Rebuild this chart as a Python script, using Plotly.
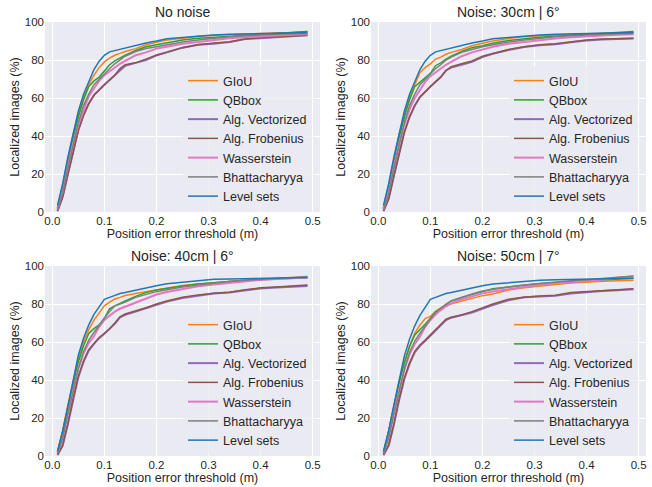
import plotly.graph_objects as go

# Shared thresholds (m)
X = [0.01, 0.02, 0.03, 0.04, 0.05, 0.06, 0.07, 0.08, 0.09, 0.10, 0.11, 0.12, 0.13, 0.14,
     0.16, 0.18, 0.20, 0.22, 0.25, 0.28, 0.31, 0.34, 0.37, 0.40, 0.43, 0.46, 0.49]

METHODS = ["GIoU", "QBbox", "Alg. Vectorized", "Alg. Frobenius", "Wasserstein", "Bhattacharyya", "Level sets"]
TITLES = ["No noise", "Noise: 30cm | 6°", "Noise: 40cm | 6°", "Noise: 50cm | 7°"]
X_TICKS = [0.0, 0.1, 0.2, 0.3, 0.4, 0.5]
X_TICKTEXT = ["0.0", "0.1", "0.2", "0.3", "0.4", "0.5"]
Y_TICKS = [0, 20, 40, 60, 80, 100]

# --- No noise ---
giou_0 = [2, 14, 28, 41, 51, 60, 67, 72, 76, 79, 81, 82.5, 83.5, 84.5, 86, 88, 89.3, 90.5, 91.5, 92.5, 93, 93.3, 93.6, 93.8, 94, 94.5, 95]
qbbox_0 = [2, 13, 26, 39, 50, 59, 66, 69, 71, 74, 77.5, 79.5, 81, 82.5, 85, 87, 88, 89, 90.5, 91.5, 92, 92.5, 93, 93.5, 94, 94.5, 95]
algvec_0 = [0.5, 8, 20, 32, 43, 51, 57, 61.5, 64.5, 67, 69.5, 72, 75, 77, 78.5, 80, 82.5, 84, 86.5, 88, 88.5, 89.5, 91, 91.5, 92, 92.3, 93]
algfro_0 = [0.5, 8, 20, 32, 43, 51, 57, 61.5, 64.5, 67, 69.5, 72, 75.5, 77.5, 78.5, 80.5, 82.5, 84, 86.5, 88, 89, 89.5, 91, 91.8, 92.3, 92.7, 93]
wass_0 = [1.5, 11, 24, 36, 46, 54, 61, 65, 69, 72, 74, 76, 78, 79.5, 82.5, 84, 86, 87, 88.5, 89.5, 90.5, 91.5, 92, 92.5, 93, 93.3, 93.5]
bhat_0 = [1, 10, 23, 35, 47, 56, 62, 67, 70, 73, 75.5, 78, 80, 82, 84.5, 86, 87, 88, 89.5, 90.5, 91.5, 92.3, 92.8, 93, 93.5, 93.8, 94]
level_0 = [3.5, 15, 29, 41.5, 53, 62, 69, 75, 79.4, 82.5, 84.3, 85, 85.8, 86.5, 87.5, 89, 90, 91.2, 91.8, 92.5, 93.2, 93.5, 93.7, 93.8, 94, 94.2, 94.5]

# --- Noise 30cm | 6 deg ---
giou_1 = [2, 14, 28, 41, 51, 60, 67, 73.5, 76, 78, 80.5, 81.5, 83, 84, 85.5, 87.5, 88.8, 90, 91.3, 92.3, 92.8, 93.2, 93.5, 93.8, 94, 94.3, 94.5]
qbbox_1 = [2, 13, 26, 39, 50, 59, 66, 68.5, 70.5, 73, 77, 78.5, 80.5, 82, 84.5, 86.5, 87.5, 88.8, 90.3, 91.3, 92, 92.5, 93, 93.5, 94, 94.5, 95]
algvec_1 = [0.5, 7, 19, 31, 42, 50, 56, 60.5, 63.5, 66, 68.5, 71, 74.5, 76, 77.5, 79, 81.5, 83.3, 85.3, 86.8, 87.8, 88.3, 89.3, 90.3, 90.8, 91, 91.3]
algfro_1 = [0.5, 7, 19, 31, 42, 50, 56, 60.5, 63.5, 66, 68.5, 71, 74.5, 76.5, 78, 79.5, 82, 83.5, 85.5, 87, 88, 88.5, 89.5, 90.5, 91, 91.3, 91.5]
wass_1 = [1.5, 11, 24, 36, 46, 54, 60, 64.5, 68.5, 71.5, 73.5, 75.5, 77.5, 79, 82, 84, 85.5, 87, 88.5, 89.5, 90.5, 91.3, 92, 92.5, 93, 93.3, 93.5]
bhat_1 = [1, 10, 23, 35, 47, 56, 62, 67, 70, 73, 75.5, 77.5, 80, 81.5, 84, 85.5, 87, 88, 89.5, 90.5, 91.5, 92.3, 92.8, 93, 93.5, 93.8, 94]
level_1 = [3.5, 15, 29, 41.5, 53, 62, 69, 75, 79.4, 82.5, 84.3, 85, 85.8, 86.5, 87.5, 89, 90, 91.2, 91.8, 92.5, 93.2, 93.5, 93.7, 93.8, 94, 94.2, 94.5]

# --- Noise 40cm | 6 deg ---
giou_2 = [2, 13.5, 27, 40, 51.5, 60, 66.5, 71.5, 75.5, 79, 81, 82.6, 83.5, 84.5, 85.5, 86.5, 87.5, 88.5, 89.8, 90.5, 91.3, 91.8, 92.3, 92.8, 93.3, 93.8, 94]
qbbox_2 = [2, 13, 26, 38.5, 49.5, 58, 64.5, 67, 69, 72.5, 77.5, 79, 80.5, 81.6, 84, 86, 87.4, 88.3, 89.5, 90.5, 91.3, 91.8, 92.5, 93, 93.3, 93.8, 94]
algvec_2 = [0.5, 5.5, 17, 30, 41.5, 49.5, 55.5, 59, 62, 64.3, 67, 69.5, 73, 74.3, 76, 77.7, 79.6, 81.3, 83.2, 84.5, 85.5, 86, 87.2, 88.2, 88.7, 89.2, 89.5]
algfro_2 = [0.5, 5.8, 17, 30.4, 41.8, 50, 56, 59.3, 62.3, 64.6, 67, 70, 73.3, 74.7, 76.3, 78, 80, 81.6, 83.5, 84.8, 85.6, 86.2, 87.5, 88.5, 89, 89.5, 90]
wass_2 = [1.5, 10.5, 23, 35, 46, 54, 59.5, 63, 68, 71.6, 74, 76, 77.5, 78.6, 81, 83, 85, 86.3, 88, 89.3, 90.3, 91.2, 92, 92.7, 93.2, 93.7, 94]
bhat_2 = [1, 9.5, 22, 34, 46, 55, 61, 65, 69, 72.5, 76, 79, 80, 81, 83.5, 85, 86.5, 87.5, 89, 90, 91, 91.8, 92.5, 93, 93.5, 94, 94.5]
level_2 = [2.5, 13, 26, 39.5, 53, 62, 69, 74.5, 78.5, 82.5, 83.5, 84.5, 85.5, 86, 87.3, 88.5, 89.6, 90.7, 91.5, 92.3, 93, 93.2, 93.4, 93.5, 93.6, 93.8, 94]

# --- Noise 50cm | 7 deg ---
giou_3 = [2, 13, 26, 39, 49, 58, 64.6, 69, 72.3, 73.5, 76, 78, 79.3, 80, 81.8, 83, 84.4, 85.3, 87.4, 88.5, 89.5, 90.3, 91, 91.6, 92, 92.3, 92.5]
qbbox_3 = [2, 13, 26, 38.5, 49, 57.5, 63.7, 66.3, 69.3, 72.5, 76, 77.7, 79.8, 81.6, 83.5, 85, 86.8, 88, 89, 90, 90.8, 91.3, 91.8, 92.3, 92.8, 93.2, 93.5]
algvec_3 = [0.5, 5.5, 16.5, 29.5, 40.5, 48.5, 54.5, 58, 60.5, 63.3, 66, 68.5, 71.5, 72.8, 74, 75.5, 77.5, 79.5, 82, 83.5, 84, 84.3, 85.5, 86.3, 86.8, 87.3, 87.7]
algfro_3 = [0.5, 5.8, 17, 30, 41, 49, 55, 58.4, 61, 63.7, 66.3, 69, 72, 73, 74.2, 76, 78, 80, 82.5, 83.6, 84.2, 84.6, 86, 86.6, 87, 87.5, 88]
wass_3 = [1.5, 10.5, 23, 35, 45.5, 53.5, 59, 62.8, 68, 71.6, 74.5, 76.8, 78.8, 80.3, 82.5, 84, 85.6, 86.6, 88, 89, 90, 91, 91.5, 92, 92.8, 93.8, 94.5]
bhat_3 = [1, 9.5, 22, 34, 45.5, 54.5, 60.5, 64.6, 68.5, 72, 75.5, 78, 80, 81.6, 83.5, 85.3, 86.8, 87.8, 89, 90, 90.8, 91.5, 92.2, 92.8, 93.5, 94.2, 94.8]
level_3 = [2.5, 13.5, 27, 40, 52.5, 61.5, 68.5, 74, 78.5, 82.5, 83.5, 84.5, 85.5, 86, 87.3, 88.5, 89.6, 90.5, 91.2, 91.8, 92.5, 92.7, 92.8, 93, 93, 93.3, 93.5]

PANELS = [
    [giou_0, qbbox_0, algvec_0, algfro_0, wass_0, bhat_0, level_0],
    [giou_1, qbbox_1, algvec_1, algfro_1, wass_1, bhat_1, level_1],
    [giou_2, qbbox_2, algvec_2, algfro_2, wass_2, bhat_2, level_2],
    [giou_3, qbbox_3, algvec_3, algfro_3, wass_3, bhat_3, level_3],
]

COLORS = ["#ff7f0e", "#2ca02c", "#9467bd", "#8c564b", "#e377c2", "#7f7f7f", "#1f77b4"]
WIDTHS = [1.5, 1.5, 2, 1.5, 2, 1.5, 1.5]

W, H = 652, 487
FONT = "Liberation Sans, Arial, sans-serif"
TXT = "#262626"
BG = "#EAEAF2"

# pixel boxes of the four plot areas: (left, right, top, bottom)
BOXES = [(45, 320, 22, 212), (371, 646, 22, 212), (45, 320, 266, 456), (371, 646, 266, 456)]

fig = go.Figure()
layout = dict(
    width=W, height=H,
    margin=dict(l=0, r=0, t=0, b=0),
    paper_bgcolor="white", plot_bgcolor=BG,
    font=dict(family=FONT, color=TXT, size=12),
    annotations=[],
)

for i, (series, box) in enumerate(zip(PANELS, BOXES)):
    l, r, t, b = box
    sfx = "" if i == 0 else str(i + 1)
    lg = "legend" if i == 0 else f"legend{i + 1}"
    for name, ys, c, w in zip(METHODS, series, COLORS, WIDTHS):
        fig.add_trace(go.Scatter(
            x=X, y=ys, mode="lines", name=name,
            line=dict(color=c, width=w),
            xaxis="x" + sfx, yaxis="y" + sfx, legend=lg,
        ))
    layout["xaxis" + sfx] = dict(
        domain=[l / W, r / W], anchor="y" + sfx, range=[-0.014, 0.514],
        tickvals=X_TICKS, ticktext=X_TICKTEXT, showgrid=True, gridcolor="white", gridwidth=1,
        zeroline=False, showline=False, ticks="", tickfont=dict(size=11.5, color=TXT),
        title=dict(text="Position error threshold (m)", font=dict(size=12.5, color=TXT), standoff=2),
        automargin=False,
    )
    layout["yaxis" + sfx] = dict(
        domain=[1 - b / H, 1 - t / H], anchor="x" + sfx, range=[0, 100],
        tickvals=Y_TICKS, showgrid=True, gridcolor="white", gridwidth=1,
        zeroline=False, showline=False, ticks="", tickfont=dict(size=11.5, color=TXT),
        title=dict(text="Localized images (%)", font=dict(size=12.5, color=TXT), standoff=2),
        automargin=False,
    )
    layout[lg] = dict(
        x=(l + 138) / W, y=1 - (t + 44) / H, xanchor="left", yanchor="top",
        bgcolor="rgba(234,234,242,0.8)", borderwidth=0,
        font=dict(size=12.5, color=TXT), tracegroupgap=0, itemwidth=30,
    )
    layout["annotations"].append(dict(
        text=TITLES[i], x=(l + r) / 2 / W, y=1 - (t - 10) / H, xref="paper", yref="paper",
        xanchor="center", yanchor="middle", showarrow=False, font=dict(size=14, color=TXT),
    ))

fig.update_layout(**layout)
fig.write_html(
    "out.html",
    config={"displayModeBar": False},
    post_script="document.body.style.margin='0';document.body.style.padding='0';",
)
